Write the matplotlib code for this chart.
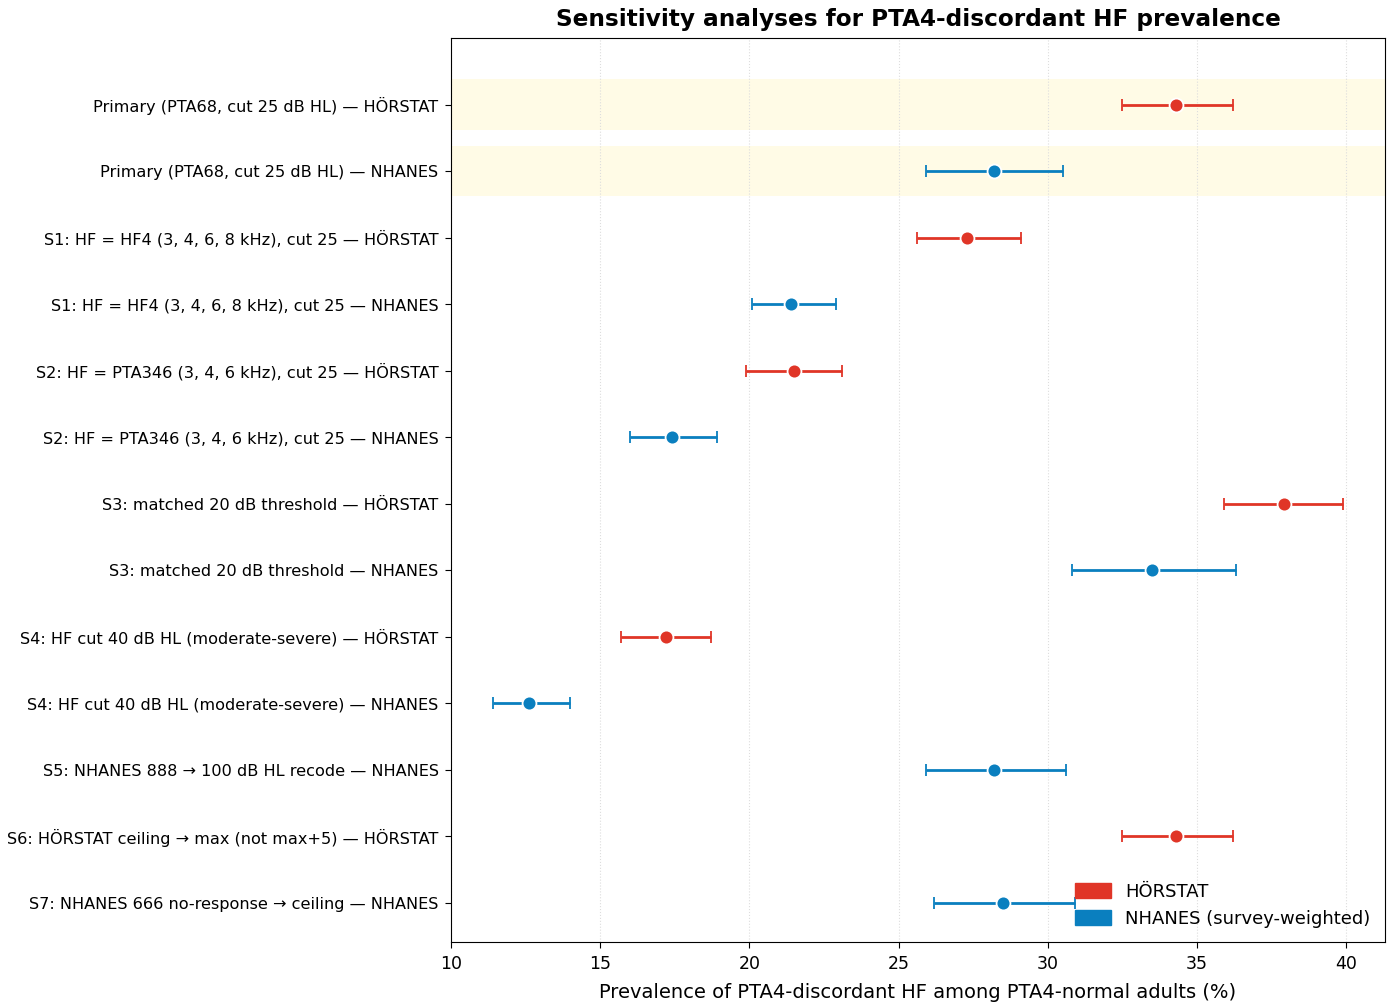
import matplotlib
matplotlib.use("Agg")
import matplotlib.pyplot as plt
from matplotlib.patches import Patch

labels = [
    "Primary (PTA68, cut 25 dB HL) — HÖRSTAT",
    "Primary (PTA68, cut 25 dB HL) — NHANES",
    "S1: HF = HF4 (3, 4, 6, 8 kHz), cut 25 — HÖRSTAT",
    "S1: HF = HF4 (3, 4, 6, 8 kHz), cut 25 — NHANES",
    "S2: HF = PTA346 (3, 4, 6 kHz), cut 25 — HÖRSTAT",
    "S2: HF = PTA346 (3, 4, 6 kHz), cut 25 — NHANES",
    "S3: matched 20 dB threshold — HÖRSTAT",
    "S3: matched 20 dB threshold — NHANES",
    "S4: HF cut 40 dB HL (moderate-severe) — HÖRSTAT",
    "S4: HF cut 40 dB HL (moderate-severe) — NHANES",
    "S5: NHANES 888 → 100 dB HL recode — NHANES",
    "S6: HÖRSTAT ceiling → max (not max+5) — HÖRSTAT",
    "S7: NHANES 666 no-response → ceiling — NHANES",
]
cohort = ["HÖRSTAT", "NHANES", "HÖRSTAT", "NHANES", "HÖRSTAT", "NHANES",
          "HÖRSTAT", "NHANES", "HÖRSTAT", "NHANES", "NHANES", "HÖRSTAT", "NHANES"]
estimate = [34.3, 28.2, 27.3, 21.4, 21.5, 17.4, 37.9, 33.5, 17.2, 12.6, 28.2, 34.3, 28.5]
ci_low = [32.5, 25.9, 25.6, 20.1, 19.9, 16.0, 35.9, 30.8, 15.7, 11.4, 25.9, 32.5, 26.2]
ci_high = [36.2, 30.5, 29.1, 22.9, 23.1, 18.9, 39.9, 36.3, 18.7, 14.0, 30.6, 36.2, 30.9]
primary_rows = [0, 1]

colors = {"HÖRSTAT": "#e03527", "NHANES": "#0a7fbf"}
legend_names = {"HÖRSTAT": "HÖRSTAT", "NHANES": "NHANES (survey-weighted)"}

fig = plt.figure(figsize=(13.93, 10.08), dpi=100)
ax = fig.add_axes([0.3238, 0.0655, 0.6705, 0.8968])

for i in primary_rows:
    ax.axhspan(i - 0.38, i + 0.38, color="#fffbe6", zorder=0, lw=0)

for i in range(len(labels)):
    c = colors[cohort[i]]
    ax.errorbar(estimate[i], i,
                xerr=[[estimate[i] - ci_low[i]], [ci_high[i] - estimate[i]]],
                fmt="o", color=c, ecolor=c, elinewidth=2, capsize=4.5, capthick=1.8,
                markersize=10, markeredgecolor="white", markeredgewidth=1.3, zorder=3)

ax.set_yticks(range(len(labels)))
ax.set_yticklabels(labels, fontsize=11.6)
ax.tick_params(axis="y", length=4, pad=5)
ax.set_ylim(len(labels) - 0.41, -1.0)
ax.set_xlim(10, 41.3)
ax.set_xticks([10, 15, 20, 25, 30, 35, 40])
ax.tick_params(axis="x", labelsize=12.5, length=4.5, pad=5)
ax.grid(axis="x", linestyle=":", color="#dddddd", lw=0.8)
ax.set_axisbelow(True)
ax.set_xlabel("Prevalence of PTA4-discordant HF among PTA4-normal adults (%)", fontsize=14,
              labelpad=7)
ax.set_title("Sensitivity analyses for PTA4-discordant HF prevalence", fontsize=16.7,
             fontweight="bold", pad=9)

handles = [Patch(color=colors[k], label=legend_names[k]) for k in ["HÖRSTAT", "NHANES"]]
ax.legend(handles=handles, loc="lower right", frameon=False, fontsize=13,
          handlelength=2.0, handleheight=0.9, borderaxespad=0.4)

fig.savefig("out.png", dpi=100)
